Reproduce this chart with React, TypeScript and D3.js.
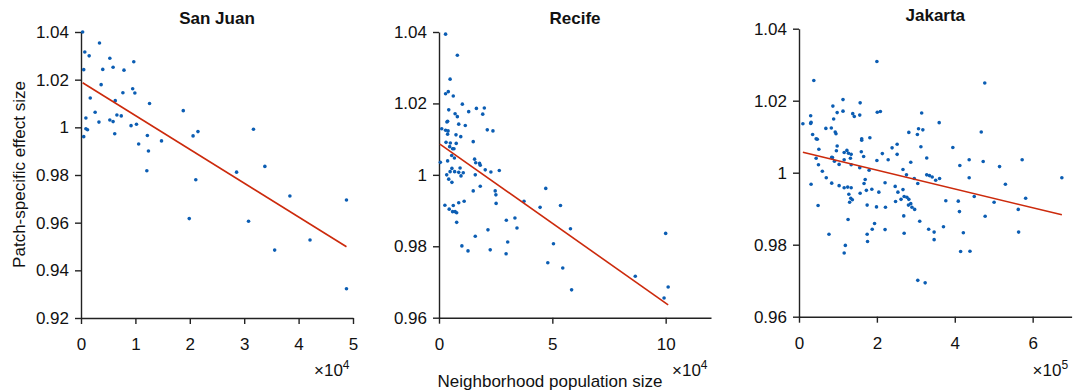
import React, { useEffect, useRef } from "react";
import * as d3 from "d3";

// population in units of 10^4 (San Juan, Recife) and 10^5 (Jakarta)
const sanJuanX = [
  0.03, 0.34, 0.07, 0.15, 0.53, 0.97, 0.05, 0.4, 0.59, 0.79, 0.37, 0.95, 0.99, 0.77, 0.17, 1.26, 0.63,
  1.88, 0.26, 0.09, 0.66, 0.74, 0.33, 0.53, 0.59, 0.92, 1.02, 0.09, 0.12, 0.05, 0.62, 1.22, 2.15, 2.06,
  1.06, 1.48, 1.24, 1.21, 2.11, 3.17, 3.38, 2.86, 3.84, 4.88, 1.99, 3.08, 3.56, 4.21, 4.88,
];
const sanJuanY = [
  1.04, 1.0354, 1.0316, 1.03, 1.029, 1.0275, 1.0242, 1.0243, 1.0252, 1.024, 1.0179, 1.0162, 1.0144, 1.0145,
  1.0123, 1.01, 1.0112, 1.007, 1.0063, 1.0039, 1.0052, 1.0048, 1.0022, 1.0031, 1.0024, 1.0007, 1.0013,
  0.9994, 0.999, 0.9961, 0.9973, 0.9966, 0.9982, 0.9964, 0.993, 0.9943, 0.9901, 0.9818, 0.978, 0.9992,
  0.9836, 0.9812, 0.9712, 0.9695, 0.9617, 0.9606, 0.9485, 0.9527, 0.9323,
];
const sanJuanFitX = [0.03, 4.88];
const sanJuanFitY = [1.0187, 0.9499];

const recifeX = [
  0.29, 0.81, 0.49, 0.29, 0.41, 0.63, 1.03, 0.43, 1.31, 1.65, 2.0, 1.93, 0.71, 0.81, 0.35, 0.38, 0.87, 1.16,
  0.12, 0.29, 0.4, 0.38, 2.13, 2.38, 0.75, 0.96, 0.31, 0.5, 0.76, 1.51, 0.47, 0.6, 0.66, 0.56, 0.68, 0.06,
  0.38, 1.57, 1.62, 1.79, 1.82, 0.57, 0.93, 0.49, 0.69, 0.87, 1.07, 2.04, 2.29, 2.66, 0.34, 0.97, 1.6,
  0.43, 0.57, 1.82, 1.51, 2.48, 2.51, 2.52, 3.75, 4.71, 4.46, 5.36, 0.26, 0.45, 0.63, 0.6, 0.71, 0.78,
  0.87, 1.11, 0.78, 2.97, 3.35, 3.44, 2.16, 1.6, 3.03, 1.01, 1.28, 2.26, 2.96, 5.05, 4.8, 5.46, 5.8, 5.85,
  8.66, 10.0, 9.93, 10.11,
];
const recifeY = [
  1.0394, 1.0335, 1.0268, 1.0227, 1.0233, 1.0221, 1.0198, 1.0182, 1.0177, 1.0186, 1.0187, 1.017, 1.0171,
  1.0163, 1.0148, 1.015, 1.0142, 1.0138, 1.0129, 1.0125, 1.0123, 1.0114, 1.0126, 1.0123, 1.0112, 1.0107,
  1.0091, 1.0089, 1.0088, 1.0093, 1.0079, 1.0073, 1.0073, 1.0054, 1.0047, 1.0035, 1.0039, 1.0044, 1.0034,
  1.0032, 1.0027, 1.0018, 1.0019, 1.0009, 1.0009, 1.0007, 1.0006, 1.0014, 1.0008, 1.0012, 1.0, 0.9997,
  1.0, 0.9988, 0.9979, 0.9968, 0.9955, 0.9955, 0.9944, 0.992, 0.9926, 0.9962, 0.9909, 0.9914, 0.9915,
  0.9904, 0.9914, 0.9897, 0.9897, 0.9894, 0.9922, 0.9926, 0.9867, 0.9873, 0.9879, 0.9851, 0.9846, 0.9828,
  0.9812, 0.9801, 0.9787, 0.979, 0.9779, 0.9807, 0.9754, 0.9739, 0.9849, 0.9678, 0.9716, 0.9836, 0.9655,
  0.9686,
];
const recifeFitX = [0.04, 10.11];
const recifeFitY = [1.0086, 0.9636];

const jakartaX = [
  2.0, 0.38, 4.77, 0.1, 0.3, 0.3, 0.31, 0.35, 0.44, 0.47, 0.51, 0.44, 0.5, 0.6, 0.7, 0.84, 0.31, 0.49, 0.77,
  0.87, 0.89, 0.98, 1.13, 1.13, 1.38, 1.42, 1.57, 1.56, 2.01, 2.09, 0.69, 0.83, 0.93, 0.95, 1.61, 1.61,
  1.82, 0.98, 0.96, 1.16, 1.23, 1.27, 1.34, 0.84, 0.86, 0.91, 1.03, 1.16, 1.32, 1.34, 1.6, 1.66, 1.56, 1.8,
  2.0, 2.14, 2.29, 2.39, 2.52, 2.52, 2.82, 3.04, 3.07, 3.18, 3.15, 3.13, 2.87, 3.28, 2.67, 2.76, 2.96, 3.05,
  3.28, 3.35, 3.42, 3.51, 1.25, 1.16, 1.03, 1.34, 1.28, 1.33, 1.3, 1.37, 1.26, 1.19, 1.16, 1.57, 1.67, 1.7,
  1.73, 1.87, 2.05, 1.75, 1.99, 2.21, 2.22, 1.94, 1.88, 1.75, 1.76, 2.21, 2.47, 2.54, 2.48, 2.62, 2.67,
  2.7, 2.77, 2.82, 2.87, 2.81, 2.9, 2.97, 2.69, 2.7, 3.1, 3.33, 3.47, 3.47, 3.05, 3.24, 3.6, 4.68, 3.95,
  4.37, 4.73, 5.73, 4.13, 5.15, 3.61, 4.37, 6.75, 5.3, 4.5, 5.82, 3.77, 4.09, 5.01, 5.63, 4.12, 4.78, 3.71,
  4.22, 5.64, 4.15, 4.39,
];
const jakartaY = [
  1.0309, 1.0256, 1.0249, 1.0136, 1.0158, 1.0137, 1.014, 1.0106, 1.0094, 1.0093, 1.0065, 1.004, 1.0022,
  1.0004, 0.9986, 0.9971, 0.9968, 0.9909, 0.9829, 1.0185, 1.0149, 1.0167, 1.0203, 1.0171, 1.0164, 1.0156,
  1.0194, 1.016, 1.0168, 1.017, 1.0123, 1.0124, 1.0113, 1.0108, 1.0094, 1.009, 1.0097, 1.0074, 1.0061,
  1.0056, 1.0062, 1.0054, 1.0051, 1.0043, 1.0042, 1.0032, 1.0023, 1.0036, 1.004, 1.0022, 1.0058, 1.0045,
  1.0014, 1.0007, 1.0034, 1.0053, 1.0036, 1.0069, 1.0079, 1.0051, 1.0112, 1.0106, 1.0122, 1.0119, 1.0166,
  1.0072, 1.0029, 1.0041, 1.0009, 0.9994, 0.9984, 0.997, 0.9994, 0.9992, 0.9988, 0.9979, 0.996, 0.9958,
  0.9964, 0.9958, 0.994, 0.9929, 0.9918, 0.9925, 0.987, 0.9798, 0.9777, 0.9943, 0.997, 0.9981, 0.9951,
  0.9954, 0.9946, 0.991, 0.9905, 0.9972, 0.9904, 0.9859, 0.9843, 0.9829, 0.9809, 0.9842, 0.9962, 0.9946,
  0.992, 0.9926, 0.9953, 0.9934, 0.9932, 0.9926, 0.9914, 0.991, 0.9904, 0.9898, 0.988, 0.9832, 0.9865,
  0.9843, 0.9835, 0.9814, 0.9701, 0.9694, 1.0139, 1.0113, 1.007, 1.0036, 1.0031, 1.0036, 1.002, 1.0017,
  0.9984, 0.9986, 0.9986, 0.9968, 0.9934, 0.9929, 0.9922, 0.9921, 0.9918, 0.9898, 0.9892, 0.9879, 0.985,
  0.9833, 0.9835, 0.9781, 0.9782,
];
const jakartaFitX = [0.1, 6.75];
const jakartaFitY = [1.0057, 0.9883];

const sanJuanXTicks = [0, 1, 2, 3, 4, 5];
const recifeXTicks = [0, 5, 10];
const jakartaXTicks = [0, 2, 4, 6];
const sanJuanYTicks = [0.92, 0.94, 0.96, 0.98, 1, 1.02, 1.04];
const otherYTicks = [0.96, 0.98, 1, 1.02, 1.04];

const panels = [
  {
    title: "San Juan", xs: sanJuanX, ys: sanJuanY, fitX: sanJuanFitX, fitY: sanJuanFitY,
    xDomain: [0, 5], yDomain: [0.92, 1.04], xTicks: sanJuanXTicks, yTicks: sanJuanYTicks, exp: "4",
    left: 81, right: 353, top: 32, bottom: 318,
  },
  {
    title: "Recife", xs: recifeX, ys: recifeY, fitX: recifeFitX, fitY: recifeFitY,
    xDomain: [0, 12], yDomain: [0.96, 1.04], xTicks: recifeXTicks, yTicks: otherYTicks, exp: "4",
    left: 439, right: 711, top: 32, bottom: 317.7,
  },
  {
    title: "Jakarta", xs: jakartaX, ys: jakartaY, fitX: jakartaFitX, fitY: jakartaFitY,
    xDomain: [0, 7], yDomain: [0.96, 1.04], xTicks: jakartaXTicks, yTicks: otherYTicks, exp: "5",
    left: 799, right: 1071.6, top: 28.7, bottom: 316.7,
  },
];

const font = "'Liberation Sans', Arial, Helvetica, sans-serif";

export default function App() {
  const svgRef = useRef<SVGSVGElement>(null);

  useEffect(() => {
    const svg = d3.select(svgRef.current);
    svg.selectAll("*").remove();

    panels.forEach((p) => {
      const x = d3.scaleLinear().domain(p.xDomain).range([p.left, p.right]);
      const y = d3.scaleLinear().domain(p.yDomain).range([p.bottom, p.top]);
      const g = svg.append("g");

      const xAxis = g
        .append("g")
        .attr("transform", `translate(0,${p.bottom})`)
        .call(
          d3.axisBottom(x).tickValues(p.xTicks).tickSize(6).tickSizeOuter(0).tickPadding(14)
            .tickFormat(d3.format("d"))
        );
      const yAxis = g
        .append("g")
        .attr("transform", `translate(${p.left},0)`)
        .call(
          d3.axisLeft(y).tickValues(p.yTicks).tickSize(6).tickSizeOuter(0).tickPadding(6)
            .tickFormat(d3.format("~g"))
        );
      [xAxis, yAxis].forEach((a) => {
        a.attr("font-family", font).attr("font-size", 17);
        a.select(".domain").attr("stroke", "#222").attr("stroke-width", 1.4);
        a.selectAll(".tick line").attr("stroke", "#222").attr("stroke-width", 1.4);
        a.selectAll(".tick text").attr("fill", "#111");
      });

      g.selectAll(".dot")
        .data(p.xs)
        .enter()
        .append("circle")
        .attr("class", "dot")
        .attr("cx", (d) => x(d))
        .attr("cy", (d, i) => y(p.ys[i]))
        .attr("r", 1.8)
        .attr("fill", "#0b5db3");

      const line = d3
        .line<number>()
        .x((d) => x(d))
        .y((d, i) => y(p.fitY[i]));
      g.append("path")
        .attr("d", line(p.fitX))
        .attr("fill", "none")
        .attr("stroke", "#cc2a0c")
        .attr("stroke-width", 1.6);

      g.append("text")
        .attr("x", (p.left + p.right) / 2)
        .attr("y", p.top - 8)
        .attr("text-anchor", "middle")
        .attr("font-family", font)
        .attr("font-weight", "bold")
        .attr("font-size", 17)
        .attr("fill", "#111")
        .text(p.title);

      const ex = g
        .append("text")
        .attr("x", p.right - 39)
        .attr("y", 376)
        .attr("font-family", font)
        .attr("font-size", 17)
        .attr("fill", "#111");
      ex.append("tspan").text("\u00d710");
      ex.append("tspan").attr("dy", -7).attr("font-size", 12).text(p.exp);
    });

    svg
      .append("text")
      .attr("transform", "translate(25,174.5) rotate(-90)")
      .attr("text-anchor", "middle")
      .attr("font-family", font)
      .attr("font-size", 17)
      .attr("fill", "#111")
      .text("Patch-specific effect size");

    svg
      .append("text")
      .attr("x", 550)
      .attr("y", 386.5)
      .attr("text-anchor", "middle")
      .attr("font-family", font)
      .attr("font-size", 17)
      .attr("fill", "#111")
      .text("Neighborhood population size");
  }, []);

  return (
    <svg
      ref={svgRef}
      width={1085}
      height={392}
      style={{ position: "absolute", left: 0, top: 0, background: "#fff" }}
    />
  );
}
